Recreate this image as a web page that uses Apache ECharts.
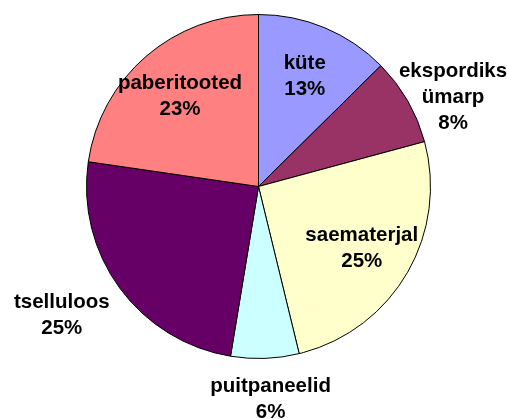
<!DOCTYPE html>
<html>
<head>
<meta charset="utf-8">
<script src="https://cdn.jsdelivr.net/npm/echarts@6/dist/echarts.min.js"></script>
<style>
html,body{margin:0;padding:0;background:#fff;}
#chart{width:507px;height:419px;}
</style>
</head>
<body>
<div id="chart"></div>
<script>
const categories = ['küte', 'ekspordiks ümarp', 'saematerjal', 'puitpaneelid', 'tselluloos', 'paberitooted'];
const values = [12.6, 8.2, 25.4, 6.4, 24.7, 22.7];
const colors = ['#9999FF', '#993366', '#FFFFCC', '#CCFFFF', '#660066', '#FF8080'];
const labelPlacement = ['inside', 'outside', 'inside', 'outside', 'outside', 'inside'];
const labelNudge = [[0, 0], [9, 17], [0, 0], [4, -1], [-24, 3], [0, 0]];

const chart = echarts.init(document.getElementById('chart'), null, { renderer: 'canvas' });

const center = [258.5, 186.5];
const R = 172;

const labelStyle = {
  fontFamily: 'Liberation Sans, Arial, sans-serif',
  fontWeight: 'bold',
  fontSize: 20.5,
  lineHeight: 26,
  color: '#000',
  align: 'center'
};

function labelSeries(kind, radius) {
  return {
    type: 'pie',
    center: center,
    radius: radius,
    startAngle: 90,
    clockwise: true,
    silent: true,
    percentPrecision: 0,
    avoidLabelOverlap: false,
    z: 5,
    labelLine: { show: false },
    itemStyle: { color: 'rgba(0,0,0,0)', borderWidth: 0 },
    emphasis: { disabled: true },
    data: categories.map((c, i) => ({
      name: c,
      value: values[i],
      label: Object.assign({}, labelStyle, {
        show: labelPlacement[i] === kind,
        position: 'inside',
        offset: kind === 'outside' ? labelNudge[i] : [0, 1],
        formatter: (p) => p.name.replace(' ', '\n') + '\n' + p.percent + '%'
      })
    }))
  };
}

chart.setOption({
  animation: false,
  backgroundColor: '#fff',
  series: [
    {
      type: 'pie',
      center: center,
      radius: [0, R],
      startAngle: 90,
      clockwise: true,
      silent: true,
      label: { show: false },
      labelLine: { show: false },
      itemStyle: { borderColor: '#000', borderWidth: 1 },
      emphasis: { disabled: true },
      data: categories.map((c, i) => ({
        name: c,
        value: values[i],
        itemStyle: { color: colors[i] }
      }))
    },
    labelSeries('inside', [62, R]),
    labelSeries('outside', [R, 250])
  ]
});
</script>
</body>
</html>
